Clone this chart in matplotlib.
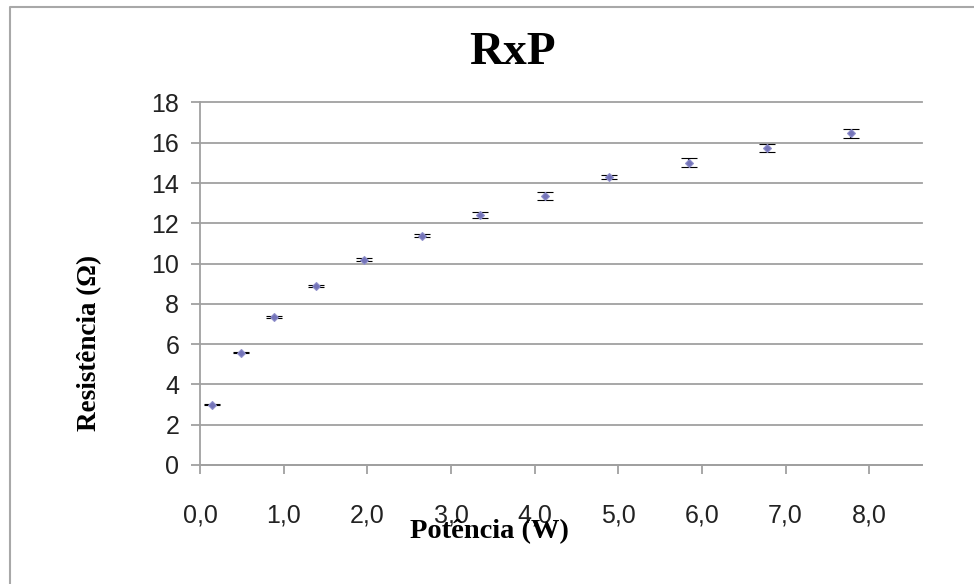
import matplotlib.pyplot as plt
from matplotlib.lines import Line2D
from matplotlib.ticker import FuncFormatter

# Potência (W), Resistência (ohm) and the uncertainty of each resistance
potencia = [0.14, 0.49, 0.88, 1.39, 1.96, 2.65, 3.35, 4.12, 4.89, 5.85, 6.78, 7.78]
resistencia = [3.00, 5.57, 7.36, 8.90, 10.20, 11.39, 12.40, 13.35, 14.32, 15.02, 15.72, 16.48]
erro = [0.03, 0.03, 0.06, 0.05, 0.07, 0.07, 0.15, 0.20, 0.10, 0.22, 0.20, 0.22]

fig = plt.figure(figsize=(9.74, 5.84), dpi=100)
ax = fig.add_axes([0.2053, 0.2038, 0.7413, 0.6207])

ax.errorbar(potencia, resistencia, yerr=erro, fmt="D", ms=4,
            mfc="#7474b8", mec="#9090cc", mew=0.8,
            ecolor="black", elinewidth=1.5, capsize=5.8, capthick=2.3,
            zorder=3)

ax.set_xlim(0, 8.63)
ax.set_ylim(0, 18)
ax.set_xticks(range(0, 9))
ax.set_yticks(range(0, 19, 2))
ax.xaxis.set_major_formatter(FuncFormatter(lambda v, p: f"{v:.1f}".replace(".", ",")))

ax.grid(axis="y", color="#a0a0a0", lw=1.3, zorder=0)
ax.set_axisbelow(True)
for side in ("top", "right"):
    ax.spines[side].set_visible(False)
for side in ("left", "bottom"):
    ax.spines[side].set_color("#a0a0a0")
    ax.spines[side].set_linewidth(1.3)

ax.tick_params(axis="both", color="#a0a0a0", width=1.3, length=6.5,
               labelsize=18, labelcolor="#222222", labelfontfamily="Liberation Sans")
ax.tick_params(axis="x", pad=21)
ax.tick_params(axis="y", pad=8.5)
for gl in ax.get_ygridlines():
    gl.set_clip_on(False)

fig.text(512 / 974, 1 - 53 / 584, "RxP", ha="center", va="center",
         fontsize=34, fontweight="bold", family="Liberation Serif")
fig.text(489 / 974, 1 - 532 / 584, "Potência (W)", ha="center", va="center",
         fontsize=20.5, fontweight="bold", family="Liberation Serif")
fig.text(90 / 974, 1 - 343 / 584, "Resistência (Ω)", ha="center", va="center",
         rotation=90, fontsize=19.5, fontweight="bold", family="Liberation Serif")

# frame around the chart area
fig.add_artist(Line2D([10 / 974, 10 / 974, 1.0], [0.0, 1 - 7 / 584, 1 - 7 / 584],
                      transform=fig.transFigure, color="#a8a8a8", lw=1.5))

fig.savefig("out.png", dpi=100)
